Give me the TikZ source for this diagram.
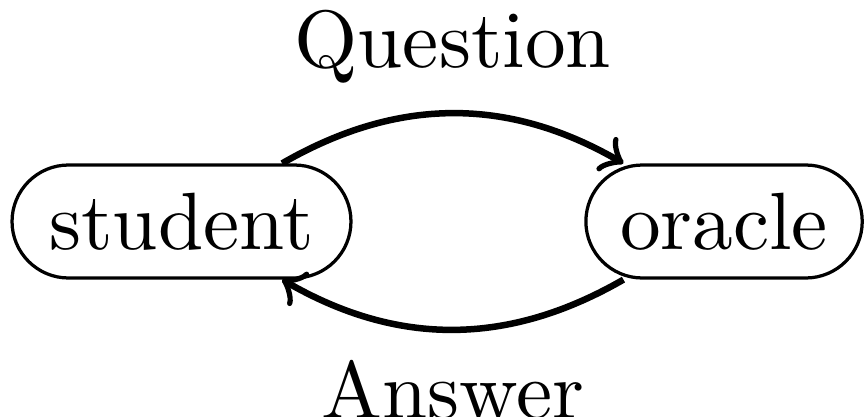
\documentclass[tikz,border=0pt]{standalone}
\begin{document}
\begin{tikzpicture}[x=1pt,y=1pt,
  agent/.style={draw, line width=0.4pt, rounded corners=6.95pt, minimum height=13.9pt, inner xsep=4.2pt, inner ysep=0pt},
  flow/.style={->, thick}]
\useasboundingbox (0,0) rectangle (106.3,51.3);
\node[agent, minimum width=41.7pt] (student) at (22.33,24.05) {student};
\node[agent, minimum width=34.0pt] (oracle) at (89.08,24.05) {oracle};
\draw[flow] (student) to[bend left=30] node[above] (q) {Question} (oracle);
\draw[flow] (oracle) to[bend left=30] node[below] (a) {Answer} (student);
\end{tikzpicture}
\end{document}
